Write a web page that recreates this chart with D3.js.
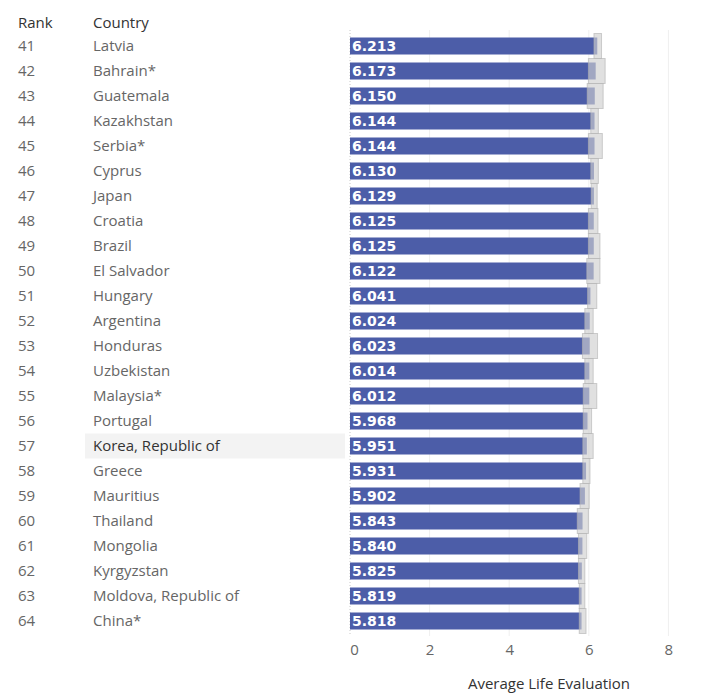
<!DOCTYPE html>
<html>
<head>
<meta charset="utf-8">
<script src="https://cdn.jsdelivr.net/npm/d3@7"></script>
<style>
	body { margin: 0; background: #fff; }
	text { font-family: "Open Sans", "Noto Sans", sans-serif; }
</style>
</head>
<body>
<div id="chart"></div>
<script>

var ranks = [41, 42, 43, 44, 45, 46, 47, 48, 49, 50, 51, 52, 53, 54, 55, 56, 57, 58, 59, 60, 61, 62, 63, 64];
var countries = ["Latvia", "Bahrain*", "Guatemala", "Kazakhstan", "Serbia*", "Cyprus", "Japan", "Croatia",
	"Brazil", "El Salvador", "Hungary", "Argentina", "Honduras", "Uzbekistan", "Malaysia*", "Portugal",
	"Korea, Republic of", "Greece", "Mauritius", "Thailand", "Mongolia", "Kyrgyzstan", "Moldova, Republic of", "China*"];
var scores = [6.213, 6.173, 6.150, 6.144, 6.144, 6.130, 6.129, 6.125, 6.125, 6.122, 6.041, 6.024,
	6.023, 6.014, 6.012, 5.968, 5.951, 5.931, 5.902, 5.843, 5.840, 5.825, 5.819, 5.818];
var lower = [6.13, 5.99, 5.96, 6.05, 5.99, 6.05, 6.06, 5.99, 5.99, 5.95, 5.97, 5.90,
	5.84, 5.90, 5.86, 5.86, 5.85, 5.85, 5.78, 5.71, 5.74, 5.74, 5.76, 5.76];
var upper = [6.32, 6.41, 6.36, 6.24, 6.34, 6.24, 6.21, 6.23, 6.28, 6.28, 6.20, 6.11,
	6.22, 6.11, 6.20, 6.07, 6.11, 6.03, 6.01, 5.99, 5.95, 5.90, 5.90, 5.93];
var xTicks = [0, 2, 4, 6, 8];
var highlight = "Korea, Republic of";

var width = 722, height = 698;

var rows = ranks.map(function(r, i){
	return { rank: r, country: countries[i], score: scores[i], lo: lower[i], hi: upper[i] };
});

var svg = d3.select("#chart")
	.append("svg")
	.attr("width", width)
	.attr("height", height);

var x = d3.scaleLinear().domain([0, 8]).range([350, 668.4]);
var y = d3.scaleBand().domain(ranks).range([33.5, 633.5]).padding(0);
var barH = 17;

// gridlines
svg.selectAll(".grid")
	.data(xTicks.slice(1))
	.enter().append("line")
	.attr("x1", function(d){ return x(d); })
	.attr("x2", function(d){ return x(d); })
	.attr("y1", 30)
	.attr("y2", 636)
	.attr("stroke", "#efefef")
	.attr("stroke-width", 1);

svg.append("line")
	.attr("x1", x(0)).attr("x2", x(0))
	.attr("y1", 30).attr("y2", 636)
	.attr("stroke", "#c8c8c8")
	.attr("stroke-dasharray", "1,2");

// highlighted row
svg.append("rect")
	.attr("x", 85)
	.attr("y", y(ranks[countries.indexOf(highlight)]))
	.attr("width", 260)
	.attr("height", y.bandwidth())
	.attr("fill", "#f3f3f3");

// headers
svg.append("text").attr("x", 18).attr("y", 28).attr("font-size", 15).attr("fill", "#333").text("Rank");
svg.append("text").attr("x", 93).attr("y", 28).attr("font-size", 15).attr("fill", "#333").text("Country");

var row = svg.selectAll(".row")
	.data(rows)
	.enter().append("g")
	.attr("class", "row");

row.append("text")
	.attr("x", 18)
	.attr("y", function(d){ return y(d.rank) + y.bandwidth()/2 + 5; })
	.attr("font-size", 15)
	.attr("fill", "#666")
	.text(function(d){ return d.rank; });

row.append("text")
	.attr("x", 93)
	.attr("y", function(d){ return y(d.rank) + y.bandwidth()/2 + 5; })
	.attr("font-size", 15)
	.attr("fill", function(d){ return d.country == highlight ? "#333" : "#666"; })
	.text(function(d){ return d.country; });

row.append("rect")
	.attr("x", x(0))
	.attr("y", function(d){ return y(d.rank) + (y.bandwidth() - barH)/2; })
	.attr("width", function(d){ return x(d.score) - x(0); })
	.attr("height", barH)
	.attr("fill", "#4c5da8");

// confidence bands
row.append("rect")
	.attr("x", function(d){ return x(d.lo); })
	.attr("y", function(d){ return y(d.rank); })
	.attr("width", function(d){ return x(d.hi) - x(d.lo); })
	.attr("height", y.bandwidth())
	.attr("fill", "#cfcfcf")
	.attr("fill-opacity", 0.65)
	.attr("stroke", "#b0b0b0")
	.attr("stroke-opacity", 0.6)
	.attr("stroke-width", 1);

row.append("text")
	.attr("x", x(0) + 2)
	.attr("y", function(d){ return y(d.rank) + y.bandwidth()/2 + 5; })
	.attr("font-size", 14)
	.attr("font-weight", "bold")
	.attr("fill", "#fff")
	.style("font-family", "'DejaVu Sans', sans-serif")
	.text(function(d){ return d3.format(".3f")(d.score); });

// axis
var axis = svg.append("g")
	.attr("transform", "translate(0,636)")
	.call(d3.axisBottom(x).tickValues(xTicks).tickSize(0).tickPadding(8));
axis.select(".domain").remove();
axis.selectAll("text")
	.attr("font-size", 15)
	.attr("fill", "#666")
	.style("font-family", "'Open Sans', 'Noto Sans', sans-serif");
axis.selectAll(".tick").filter(function(d){ return d === 0; }).select("text").attr("dx", 4);

svg.append("text")
	.attr("x", 549)
	.attr("y", 689)
	.attr("text-anchor", "middle")
	.attr("font-size", 15)
	.attr("fill", "#333")
	.text("Average Life Evaluation");

</script>
</body>
</html>
